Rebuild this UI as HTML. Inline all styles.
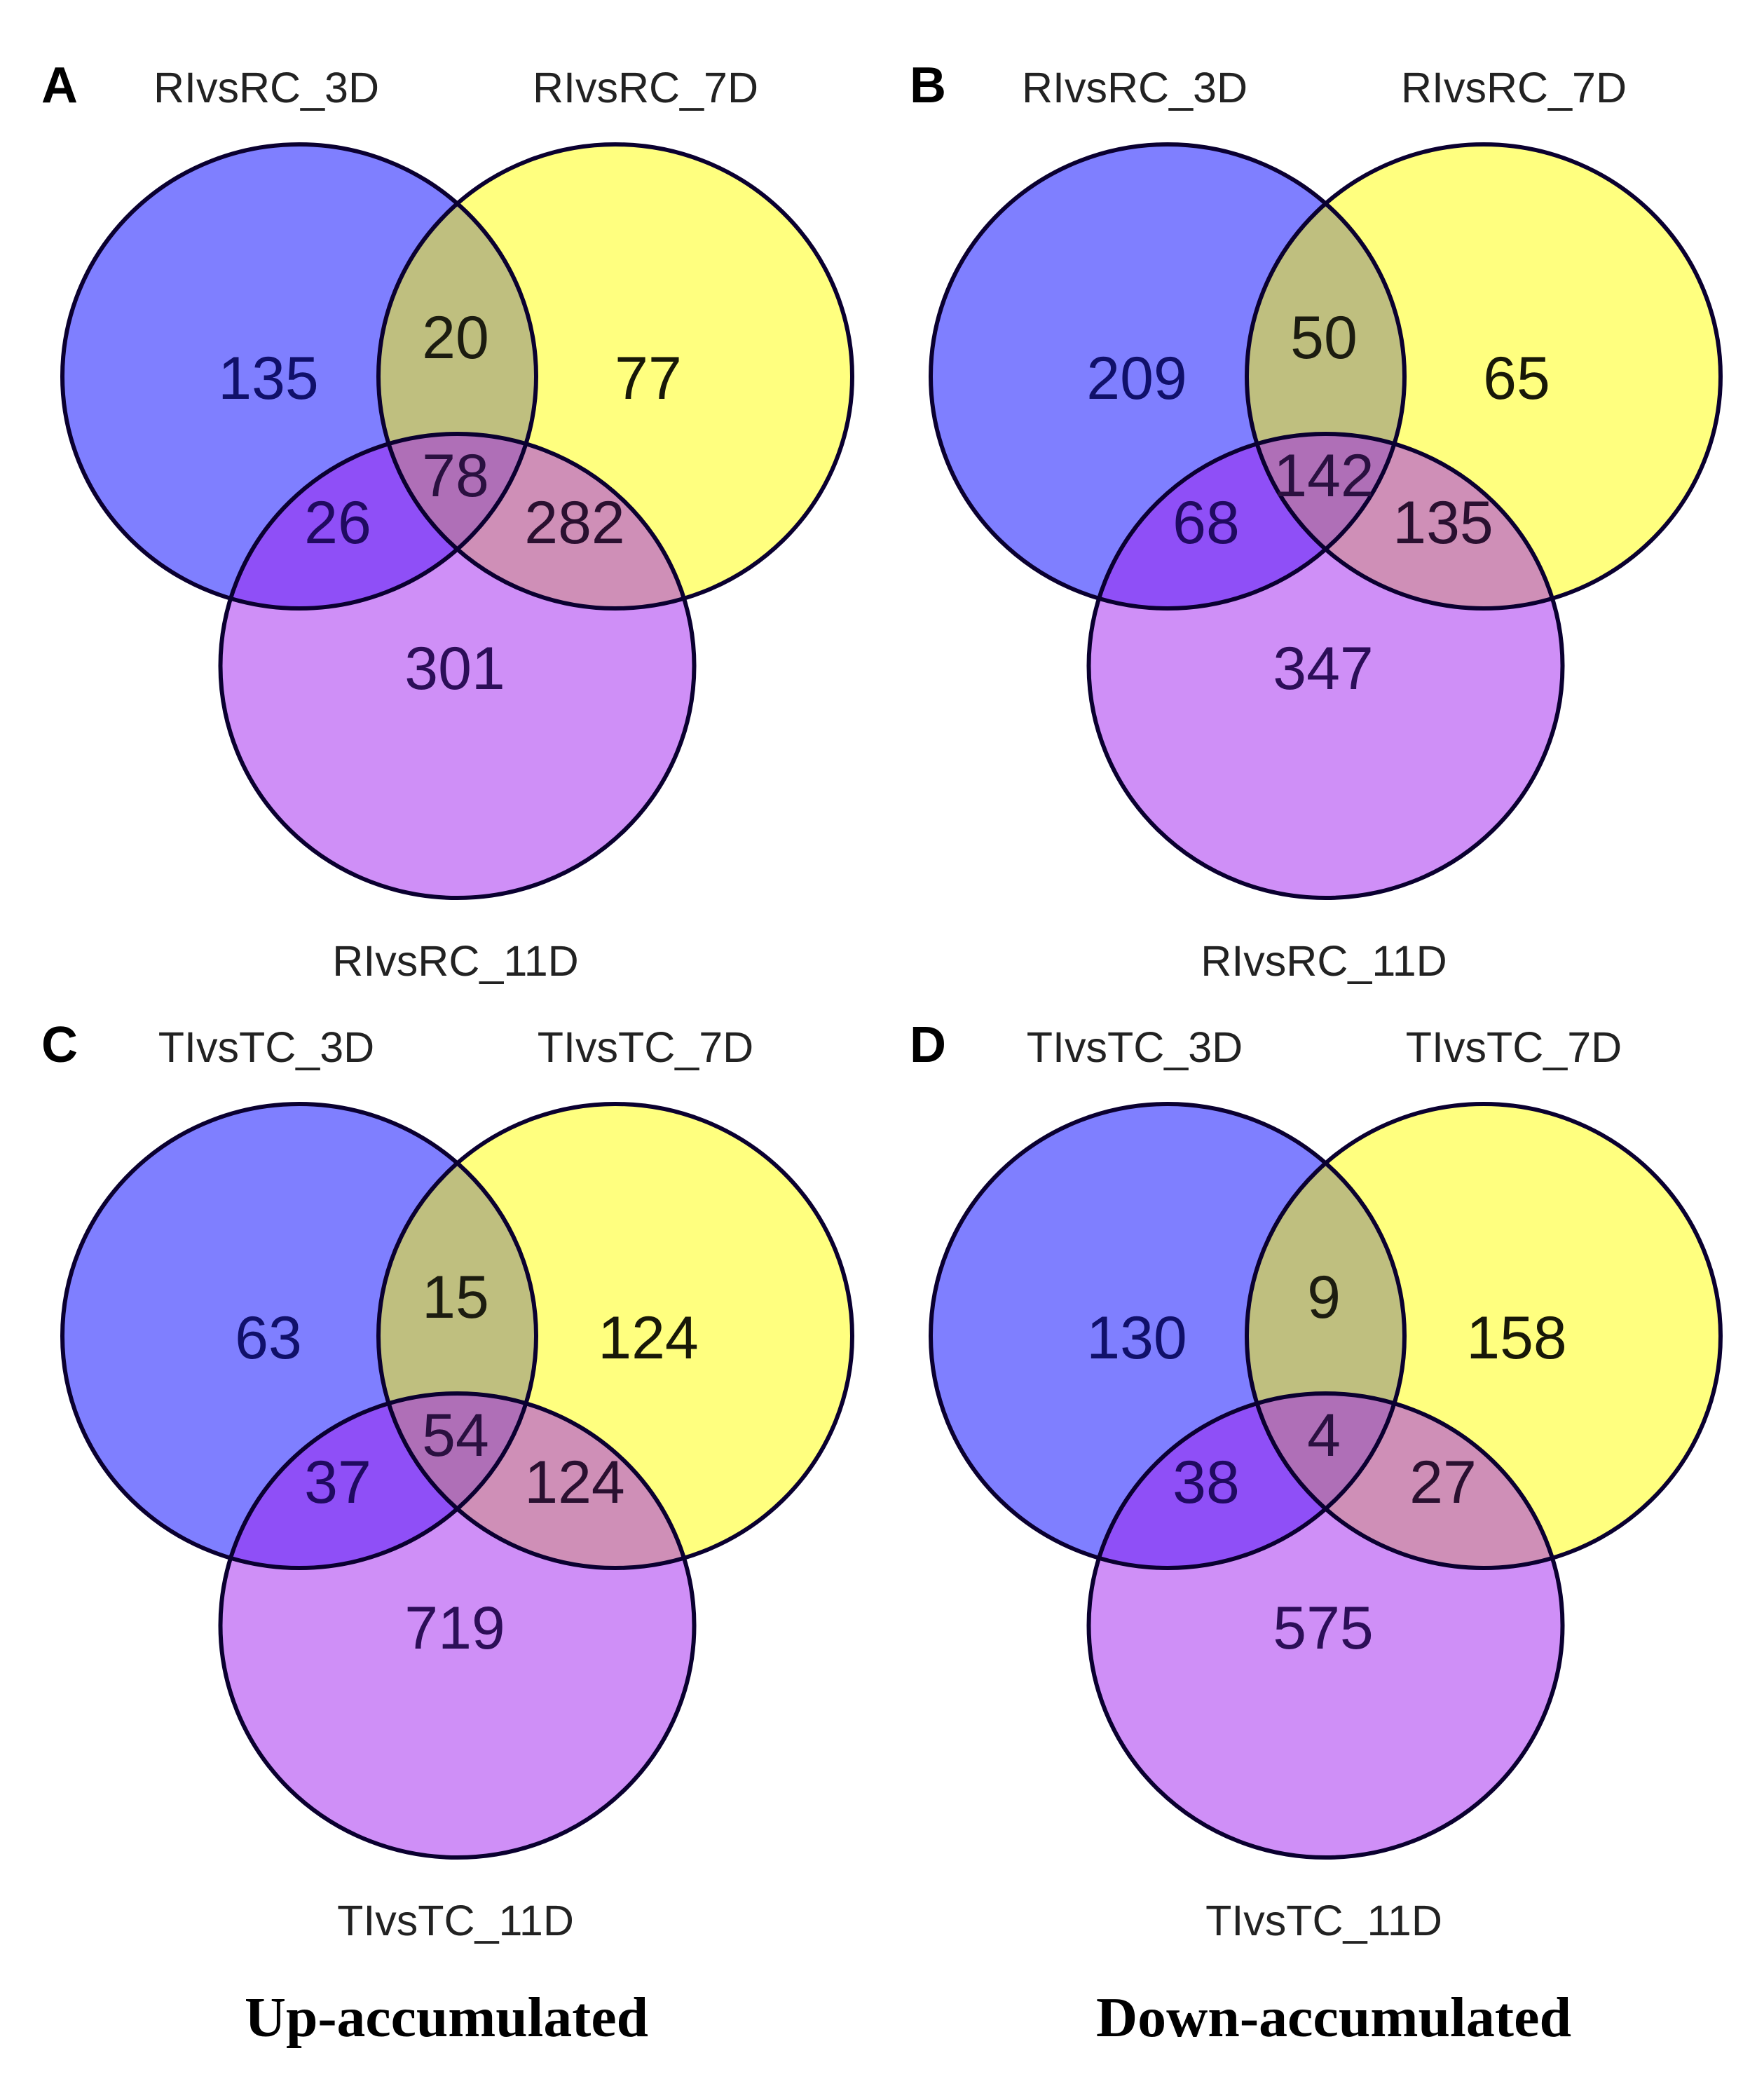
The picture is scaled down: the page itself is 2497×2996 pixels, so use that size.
<!DOCTYPE html>
<html lang="en">
<head>
<meta charset="utf-8">
<title>Venn diagrams of up- and down-accumulated genes</title>
<style>
  html, body { margin: 0; padding: 0; background: #fff; }
  svg { display: block; }
  text { font-family: "Liberation Sans", sans-serif; }
  .set-label { font-size: 61px; fill: #222; text-anchor: middle; }
  .count { font-size: 86px; text-anchor: middle; }
  .panel-letter { font-size: 72px; font-weight: bold; fill: #000; text-anchor: middle; }
  .caption { font-family: "Liberation Serif", serif; font-size: 81px; font-weight: bold; fill: #000; text-anchor: middle; }
</style>
</head>
<body>
<svg id="chart" xmlns="http://www.w3.org/2000/svg" width="2497" height="2996" viewBox="0 0 2497 2996">
  <rect width="2497" height="2996" fill="#fff"/>
  <text class="caption" x="637" y="2905" textLength="576" lengthAdjust="spacingAndGlyphs">Up-accumulated</text>
  <text class="caption" x="1903" y="2905" textLength="678" lengthAdjust="spacingAndGlyphs">Down-accumulated</text>
</svg>
<script>
// Data: panel letters, set names, and the seven region counts of each Venn diagram.
// Region order: only3D, 3D&7D, only7D, 3D&11D, all, 7D&11D, only11D
const panelLetters = ['A', 'B', 'C', 'D'];
const setNamesA = ['RIvsRC_3D', 'RIvsRC_7D', 'RIvsRC_11D'];
const setNamesB = ['RIvsRC_3D', 'RIvsRC_7D', 'RIvsRC_11D'];
const setNamesC = ['TIvsTC_3D', 'TIvsTC_7D', 'TIvsTC_11D'];
const setNamesD = ['TIvsTC_3D', 'TIvsTC_7D', 'TIvsTC_11D'];
const countsA = [135, 20, 77, 26, 78, 282, 301];
const countsB = [209, 50, 65, 68, 142, 135, 347];
const countsC = [63, 15, 124, 37, 54, 124, 719];
const countsD = [130, 9, 158, 38, 4, 27, 575];

const NS = 'http://www.w3.org/2000/svg';
const svg = document.getElementById('chart');

function make(tag, attrs, parent) {
  const el = document.createElementNS(NS, tag);
  for (const k in attrs) el.setAttribute(k, attrs[k]);
  parent.appendChild(el);
  return el;
}

function drawPanel(index, setNames, counts) {
  const dx = index % 2 === 1 ? 1239 : 0;
  const dy = index >= 2 ? 1369 : 0;
  const key = panelLetters[index].toLowerCase();

  const group = make('g', { transform: 'translate(' + dx + ' ' + dy + ')' }, svg);
  
  

  // Three set circles, translucent so overlaps mix
  const circleSpec = [
    { cx: 427, cy: 537, fill: '#0000ff' },
    { cx: 878, cy: 537, fill: '#ffff00' },
    { cx: 652.5, cy: 950, fill: '#a020f0' }
  ];
  circleSpec.forEach(function (c, i) {
    const fillEl = make('ellipse', { cx: c.cx, cy: c.cy, rx: 338, ry: 331, fill: c.fill, 'fill-opacity': 0.5, stroke: 'none' }, group);
    
    
  });
  circleSpec.forEach(function (c, i) {
    const ring = make('ellipse', { cx: c.cx, cy: c.cy, rx: 338, ry: 331, fill: 'none', stroke: '#0a0030', 'stroke-width': 6 }, group);
    
    
  });

  // Panel letter
  const letter = make('text', { class: 'panel-letter', x: 85, y: 146 }, group);
  
  
  letter.textContent = panelLetters[index];

  // Set name labels
  const labelSpots = [[380, 146], [921, 146], [650, 1392]];
  setNames.forEach(function (name, i) {
    const t = make('text', { class: 'set-label', x: labelSpots[i][0], y: labelSpots[i][1] }, group);
    
    
    t.textContent = name;
  });

  // Region counts
  const regionSpots = [[383, 569], [650, 511], [925, 569], [482, 775], [650, 708], [820, 775], [649, 983]];
  const regionInk = ['#10106a', '#1c1c10', '#181808', '#200a60', '#2a1040', '#2a1030', '#2c0e58'];
  counts.forEach(function (value, i) {
    const t = make('text', { class: 'count', x: regionSpots[i][0], y: regionSpots[i][1], fill: regionInk[i] }, group);
    
    
    t.textContent = String(value);
  });
}

drawPanel(0, setNamesA, countsA);
drawPanel(1, setNamesB, countsB);
drawPanel(2, setNamesC, countsC);
drawPanel(3, setNamesD, countsD);
</script>
</body>
</html>
